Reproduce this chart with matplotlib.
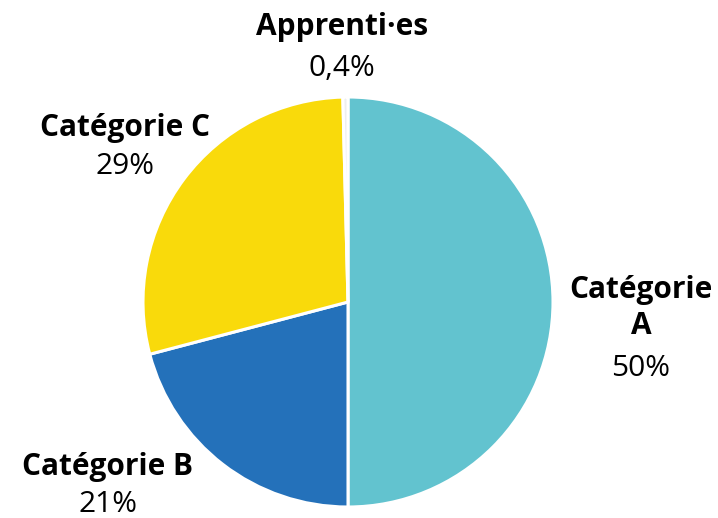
import matplotlib.pyplot as plt

categories = ['Catégorie\nA', 'Catégorie B', 'Catégorie C', 'Apprenti·es']
values = [50.0, 20.9, 28.7, 0.4]
pct_labels = ['50%', '21%', '29%', '0,4%']
colors = ['#62c3cf', '#2471ba', '#f9da0b', '#eeeeee']

plt.rcParams['font.family'] = ['Open Sans', 'DejaVu Sans']

fig = plt.figure(figsize=(7.18, 5.18), dpi=100)
ax = fig.add_axes([0, 0, 1, 1])

# y axis inverted (pixel coords): start at data -90 = visual top, counterclock = visual clockwise
ax.pie(values, colors=colors, startangle=-90, counterclock=True,
       center=(348, 302), radius=205, frame=True,
       wedgeprops=dict(edgecolor='white', linewidth=2.2))
ax.set_xlim(0, 718)
ax.set_ylim(518, 0)
ax.axis('off')

# label positions (x, centre of name, centre of percentage)
pos = [(641, 308, 368), (108, 467, 505), (125, 128, 167), (342, 27, 68)]
for name, pct, (x, yn, yp) in zip(categories, pct_labels, pos):
    ax.text(x, yn, name, ha='center', va='center', fontsize=21.5,
            fontweight='bold', linespacing=1.3)
    ax.text(x, yp, pct, ha='center', va='center', fontsize=21.5)

fig.savefig('out.png', dpi=100)
